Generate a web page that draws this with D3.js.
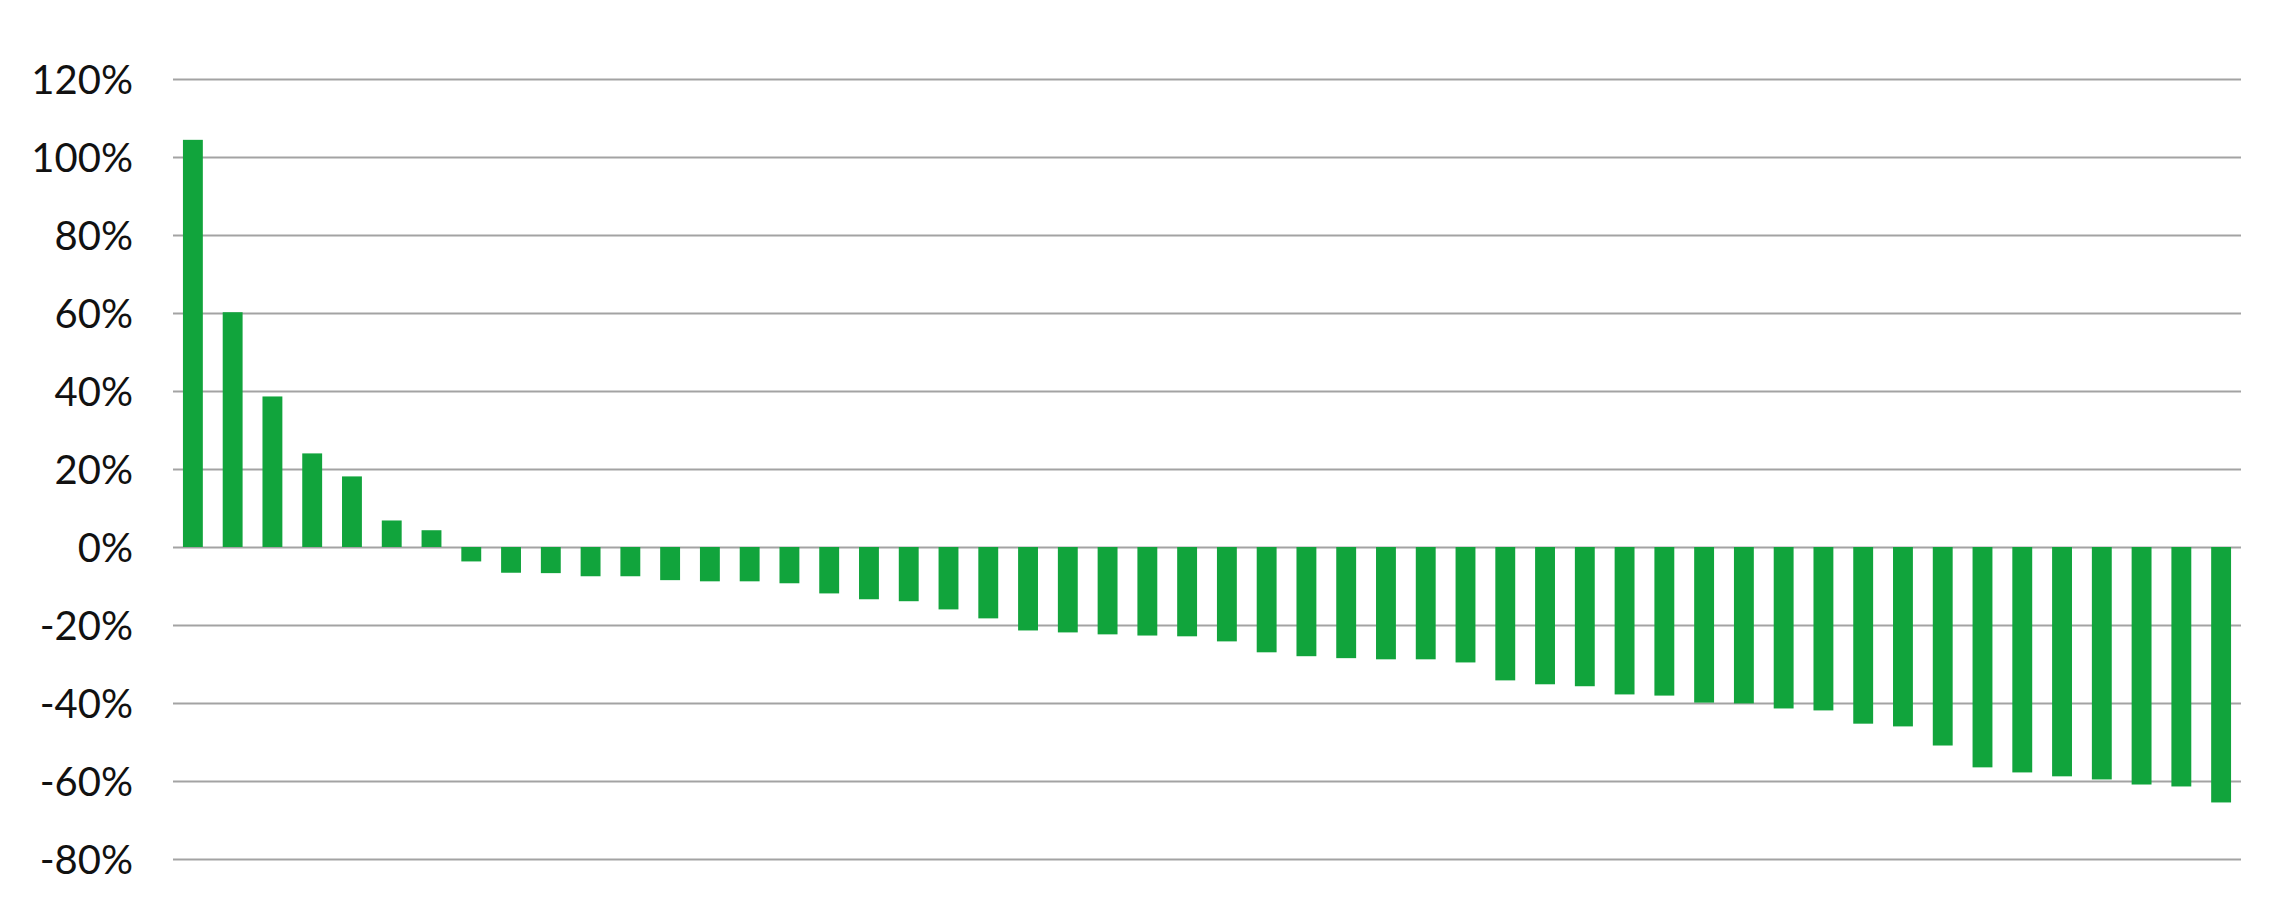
<!DOCTYPE html>
<html>
<head>
<meta charset="utf-8">
<script src="https://cdn.jsdelivr.net/npm/d3@7"></script>
<style>
  html, body { margin: 0; padding: 0; background: #fff; }
  svg { display: block; }
</style>
</head>
<body>
<div id="chart"></div>
<script>
// bar values (%), sorted high to low
const values = [
  104.4, 60.2, 38.6, 24.0, 18.1, 6.8, 4.3,
  -3.7, -6.6, -6.7, -7.5, -7.5, -8.5, -8.8, -8.8, -9.3, -11.9, -13.4, -13.9, -16.0,
  -18.3, -21.4, -21.9, -22.4, -22.7, -22.9, -24.2, -27.0, -28.0, -28.5, -28.8,
  -28.8, -29.6, -34.2, -35.2, -35.7, -37.8, -38.1, -39.9, -40.1, -41.4,
  -41.9, -45.3, -46.0, -50.9, -56.5, -57.8, -58.8, -59.6, -60.9, -61.4, -65.5,
];
const categories = values.map((_, i) => String(i + 1));
const yTicks = [-80, -60, -40, -20, 0, 20, 40, 60, 80, 100, 120];

const width = 2286;
const height = 910;
const margin = { top: 79, right: 45, bottom: 51, left: 173 };

const svg = d3.select('#chart')
  .append('svg')
  .attr('width', width)
  .attr('height', height);

const x = d3.scaleBand()
  .domain(categories)
  .range([margin.left, width - margin.right])
  .paddingInner(0.5)
  .paddingOuter(0.25);

const y = d3.scaleLinear()
  .domain([-80, 120])
  .range([height - margin.bottom, margin.top]);

// gridlines + tick labels
const axis = svg.append('g')
  .attr('transform', `translate(${margin.left},0)`)
  .call(d3.axisLeft(y)
    .tickValues(yTicks)
    .tickSizeInner(-(width - margin.left - margin.right))
    .tickSizeOuter(0)
    .tickPadding(40)
    .tickFormat(d => `${d}%`));

axis.select('.domain').remove();
axis.selectAll('.tick line')
  .attr('stroke', '#a3a3a3')
  .attr('stroke-width', 2);
axis.selectAll('.tick text')
  .attr('fill', '#111')
  .attr('dy', '0.36em')
  .style('font-family', 'Lato, "Open Sans", sans-serif')
  .style('font-size', '40px');

// bars
svg.append('g')
  .selectAll('rect')
  .data(values)
  .join('rect')
  .attr('x', (d, i) => x(categories[i]))
  .attr('width', x.bandwidth())
  .attr('y', d => y(Math.max(0, d)))
  .attr('height', d => Math.abs(y(d) - y(0)))
  .attr('fill', '#11a43c');
</script>
</body>
</html>
